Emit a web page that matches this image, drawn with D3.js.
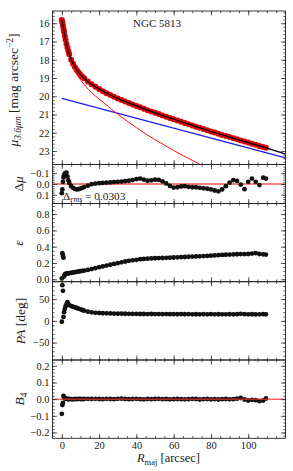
<!DOCTYPE html>
<html><head><meta charset="utf-8">
<script src="https://cdn.jsdelivr.net/npm/d3@7"></script>
<style>
body{margin:0;background:#fff;}
svg text{font-family:"Liberation Serif","Times New Roman",serif;fill:#222;}
</style></head><body><svg id="c" width="293" height="471"></svg>
<script>
// ---------- data ----------
const galaxy = "NGC 5813";
const rmsText = "0.0303";
const radius = [0,0.3,0.6,0.9,1.2,1.6,2,2.5,3,3.5,4,5,6,7,8,9,10,11,12,
  14,16,18,20,22,24,26,28,30,32,34,36,38,40,42,44,46,48,50,52,54,56,58,60,62,64,66,68,70,72,74,76,78,80,82,84,86,88,90,92,94,96,98,100,102,104,106,108,109.5];
const muData = [15.82,15.95,16.12,16.3,16.47,16.7,16.9,17.14,17.35,17.53,
  17.7,18.0,18.22,18.4,18.56,18.7,18.82,18.93,19.02,19.19,
  19.34,19.48,19.6,19.72,19.83,19.93,20.03,20.12,20.21,20.29,
  20.37,20.45,20.53,20.61,20.69,20.77,20.84,20.91,20.98,21.05,
  21.12,21.19,21.26,21.33,21.4,21.47,21.53,21.6,21.67,21.73,
  21.8,21.86,21.93,21.99,22.06,22.12,22.18,22.24,22.3,22.36,
  22.42,22.48,22.54,22.6,22.66,22.72,22.78,22.82];
const dMu = [0.085,0.05,-0.02,-0.06,-0.08,-0.095,-0.1,-0.105,-0.07,-0.035,
  -0.01,0.02,0.035,0.045,0.05,0.048,0.042,0.035,0.028,0.015,
  0.002,-0.004,-0.008,-0.01,-0.013,-0.015,-0.018,-0.02,-0.022,-0.026,
  -0.03,-0.036,-0.045,-0.05,-0.04,-0.03,-0.034,-0.04,-0.038,-0.025,
  -0.005,0.018,0.033,0.03,0.022,0.02,0.026,0.03,0.03,0.035,
  0.04,0.044,0.05,0.06,0.068,0.05,0.02,-0.012,-0.035,-0.028,
  0.005,0.048,-0.02,-0.05,-0.02,0.01,-0.058,-0.05];
const eps = [0.01,0.32,0.29,0.265,0.035,0.058,0.065,0.068,0.071,0.073,
  0.075,0.079,0.083,0.087,0.091,0.095,0.099,0.103,0.107,0.115,
  0.125,0.136,0.148,0.158,0.168,0.178,0.188,0.198,0.208,0.218,
  0.226,0.233,0.239,0.246,0.25,0.253,0.256,0.258,0.26,0.261,
  0.263,0.265,0.267,0.269,0.271,0.273,0.276,0.278,0.28,0.282,
  0.285,0.287,0.29,0.293,0.296,0.299,0.301,0.303,0.305,0.307,
  0.309,0.308,0.31,0.315,0.32,0.31,0.306,0.303];
const pa = [-2,82,69,9,20,27,33,38,43,38,
  36,34,32.5,31,29.5,28,26.5,25,23.5,21,
  19.5,18.5,18,17.5,17.2,17,16.8,16.6,16.5,16.3,
  16.2,16,16,15.8,15.8,15.6,15.7,15.5,15.6,15.4,
  15.5,15.3,15.4,15.2,15.3,15.2,15.4,15.1,15.2,15.0,
  15.2,15.1,15.3,15.0,15.2,15.1,15.0,15.2,15.1,15.4,
  16.2,15.3,15.0,15.2,14.8,15.1,15.3,15.0];
const b4 = [-0.088,-0.035,-0.022,0.02,0.012,0.006,0.003,0.002,0.001,0.0,
  0.001,0.0,-0.001,0.001,0.0,0.002,0.001,0.0,0.001,0.002,
  0.001,0.002,0.001,0.0,0.002,0.001,0.0,0.002,0.003,0.001,
  0.0,0.001,0.002,0.0,-0.001,0.001,0.0,0.001,0.002,0.0,
  0.001,-0.001,0.0,0.001,0.0,-0.001,0.0,0.002,0.001,-0.002,
  0.0,0.001,-0.001,0.0,-0.002,0.0,0.001,-0.001,0.0,0.003,
  0.007,-0.002,-0.008,-0.004,-0.006,-0.012,-0.008,0.004];
const modelR  = [0,1,2,3,4,5,6,8,10,12,15,20,25,30,35,40,50,60,70,80,90,100,110,120];
const modelMu = [15.82,16.38,16.9,17.35,17.7,18.0,18.22,18.56,18.82,19.02,19.27,19.6,19.88,20.12,20.33,20.53,20.91,21.26,21.6,21.93,22.24,22.54,22.84,23.17];
const bulgeR  = [0,1,2,3,4,5,7,10,13,16,20,25,30,35,40,45,50,55,60,65,70,75];
const bulgeMu = [15.84,16.42,16.94,17.37,17.77,18.1,18.6,19.1,19.48,19.8,20.15,20.57,20.98,21.36,21.72,22.06,22.38,22.68,22.97,23.25,23.51,23.77];
const diskR  = [0,120];
const diskMu = [20.12,23.38];
const xTicks = [0,20,40,60,80,100];
const muTicks = [16,17,18,19,20,21,22,23];
const dMuTicks = [-0.1,0,0.1];
const epsTicks = [0,0.2,0.4,0.6,0.8];
const paTicks = [-50,0,50];
const b4Ticks = [-0.2,-0.1,0,0.1,0.2];

// ---------- layout ----------
const SERIF = '"Liberation Serif","Times New Roman",serif';
const X0 = 52.5, X1 = 285.5;
const x = d3.scaleLinear().domain([-5,120]).range([X0,X1]);
const svg = d3.select('#c');
const defs = svg.append('defs');
const minus = s => s.replace('-', '\u2212');
const f1 = v => minus((Math.abs(v) < 1e-9 ? 0 : v).toFixed(1));
const f0 = v => minus(d3.format('d')(v));

const panels = [
  {top:11, bot:164.5, domain:[15.33,23.74], range:[11,164.5], major:muTicks, minor:d3.range(77,119).map(i=>i/5), fmt:f0},
  {top:164.5, bot:203.5, domain:[-0.18,0.18], range:[164.5,203.5], major:dMuTicks, minor:d3.range(-8,9).map(i=>i*0.02), fmt:f1},
  {top:203.5, bot:281.7, domain:[-0.03,0.93], range:[281.7,203.5], major:epsTicks, minor:d3.range(0,19).map(i=>i*0.05), fmt:f1},
  {top:281.7, bot:360, domain:[-90,90], range:[360,281.7], major:paTicks, minor:d3.range(-8,9).map(i=>i*10), fmt:f0},
  {top:360, bot:438.3, domain:[-0.235,0.235], range:[438.3,360], major:b4Ticks, minor:d3.range(-11,12).map(i=>i*0.02), fmt:f1}
];
const xMinor = d3.range(-1,24).map(i=>i*5);

panels.forEach((p,i) => {
  p.y = d3.scaleLinear().domain(p.domain).range(p.range);
  defs.append('clipPath').attr('id','clip'+i).append('rect')
    .attr('x',X0).attr('y',p.top).attr('width',X1-X0).attr('height',p.bot-p.top);
  p.g = svg.append('g').attr('clip-path',`url(#clip${i})`);
});

const pts = radius.map((r,i)=>({r, mu:muData[i], d:dMu[i], e:eps[i], pa:pa[i], b:b4[i]}));

// Panel 1: surface brightness
{
  const p = panels[0], y = p.y;
  p.g.selectAll('circle').data(pts).join('circle')
    .attr('cx', d=>x(d.r)).attr('cy', d=>y(d.mu)).attr('r',3).attr('fill','#dd0000');
  const line = (rs, ms) => d3.line().curve(d3.curveMonotoneX).x((d,i)=>x(rs[i])).y((d,i)=>y(ms[i]))(ms);
  p.g.append('path').attr('d', line(diskR, diskMu)).attr('fill','none').attr('stroke','#1f1fe6').attr('stroke-width',1.3);
  p.g.append('path').attr('d', line(bulgeR, bulgeMu)).attr('fill','none').attr('stroke','#ff1010').attr('stroke-width',1);
  p.g.append('path').attr('d', line(modelR, modelMu)).attr('fill','none').attr('stroke','#000').attr('stroke-width',1.2);
}
// Panel 2: residuals
{
  const p = panels[1], y = p.y;
  p.g.append('line').attr('x1',X0).attr('x2',X1).attr('y1',y(0)).attr('y2',y(0)).attr('stroke','#ee0000').attr('stroke-width',1);
  p.g.selectAll('circle').data(pts).join('circle')
    .attr('cx', d=>x(d.r)).attr('cy', d=>y(d.d)).attr('r',2.4).attr('fill','#111');
}
// Panel 3: ellipticity
{
  const p = panels[2], y = p.y;
  p.g.selectAll('circle').data(pts).join('circle')
    .attr('cx', d=>x(d.r)).attr('cy', d=>y(d.e)).attr('r',2.4).attr('fill','#111');
}
// Panel 4: PA
{
  const p = panels[3], y = p.y;
  p.g.selectAll('circle').data(pts).join('circle')
    .attr('cx', d=>x(d.r)).attr('cy', d=>y(d.pa)).attr('r',2.4).attr('fill','#111');
}
// Panel 5: B4
{
  const p = panels[4], y = p.y;
  p.g.selectAll('circle').data(pts).join('circle')
    .attr('cx', d=>x(d.r)).attr('cy', d=>y(d.b)).attr('r',2.4).attr('fill','#111');
  p.g.append('line').attr('x1',X0).attr('x2',X1).attr('y1',y(0)).attr('y2',y(0))
    .attr('stroke','#e83030').attr('stroke-opacity',0.75).attr('stroke-width',1.5);
}

// ---------- axes ----------
function styleAxis(g){
  g.attr('font-family', SERIF).attr('font-size', 10.5);
  g.select('.domain').remove();
  g.selectAll('line').attr('stroke','#333').attr('stroke-width',0.8);
  g.selectAll('text').attr('fill','#222');
}
panels.forEach((p,i) => {
  const y = p.y;
  const inside = v => v > Math.min(...p.domain)+1e-9 && v < Math.max(...p.domain)-1e-9;
  const minor = p.minor.filter(inside);
  svg.append('g').attr('transform',`translate(${X0},0)`)
    .call(d3.axisLeft(y).tickValues(p.major).tickSize(-4.5).tickPadding(3).tickFormat(p.fmt)).call(styleAxis);
  svg.append('g').attr('transform',`translate(${X0},0)`)
    .call(d3.axisLeft(y).tickValues(minor).tickSize(-2.2).tickFormat('')).call(styleAxis);
  svg.append('g').attr('transform',`translate(${X1},0)`)
    .call(d3.axisRight(y).tickValues(p.major).tickSize(-4.5).tickFormat('')).call(styleAxis);
  svg.append('g').attr('transform',`translate(${X1},0)`)
    .call(d3.axisRight(y).tickValues(minor).tickSize(-2.2).tickFormat('')).call(styleAxis);
  svg.append('g').attr('transform',`translate(0,${p.top})`)
    .call(d3.axisTop(x).tickValues(xTicks).tickSize(-4.5).tickFormat('')).call(styleAxis);
  svg.append('g').attr('transform',`translate(0,${p.top})`)
    .call(d3.axisTop(x).tickValues(xMinor.filter(v=>v>-5&&v<120)).tickSize(-2.2).tickFormat('')).call(styleAxis);
  const last = i === panels.length-1;
  svg.append('g').attr('transform',`translate(0,${p.bot})`)
    .call(d3.axisBottom(x).tickValues(xTicks).tickSize(-4.5).tickPadding(3).tickFormat(last ? d3.format('d') : '')).call(styleAxis);
  svg.append('g').attr('transform',`translate(0,${p.bot})`)
    .call(d3.axisBottom(x).tickValues(xMinor.filter(v=>v>-5&&v<120)).tickSize(-2.2).tickFormat('')).call(styleAxis);
  svg.append('rect').attr('x',X0).attr('y',p.top).attr('width',X1-X0).attr('height',p.bot-p.top)
    .attr('fill','none').attr('stroke','#222').attr('stroke-width',0.9);
});

// ---------- texts ----------
svg.append('text').attr('x',133).attr('y',26.5).attr('font-size',11).text(galaxy);
{
  const t = svg.append('text').attr('x',63).attr('y',199.5).attr('font-size',11.3);
  t.append('tspan').text('\u0394');
  t.append('tspan').attr('font-style','italic').attr('font-size',8).attr('dy',2.5).text('rms');
  t.append('tspan').attr('dy',-2.5).text(' = ' + rmsText);
}
function yLabel(cx, cy, build){
  const t = svg.append('text').attr('transform',`translate(${cx},${cy}) rotate(-90)`)
    .attr('text-anchor','middle').attr('font-size',13.5);
  build(t);
}
yLabel(18, 90, t => {
  t.append('tspan').attr('font-style','italic').text('\u03bc');
  t.append('tspan').attr('font-style','italic').attr('font-size',9.5).attr('dy',3).text('3.6\u03bcm');
  t.append('tspan').attr('dy',-3).text(' [mag arcsec');
  t.append('tspan').attr('font-size',9.5).attr('dy',-5).text('\u22122');
  t.append('tspan').attr('dy',5).text(']');
});
yLabel(23, 184, t => { t.append('tspan').text('\u0394'); t.append('tspan').attr('font-style','italic').text('\u03bc'); });
yLabel(23, 243, t => { t.append('tspan').attr('font-style','italic').text('\u03b5'); });
yLabel(25, 321, t => { t.append('tspan').attr('font-style','italic').text('PA'); t.append('tspan').text(' [deg]'); });
yLabel(24, 399, t => {
  t.append('tspan').attr('font-style','italic').text('B');
  t.append('tspan').attr('font-size',9.5).attr('dy',3).text('4');
});
{
  const t = svg.append('text').attr('x',168.5).attr('y',462).attr('text-anchor','middle').attr('font-size',12.5);
  t.append('tspan').attr('font-style','italic').text('R');
  t.append('tspan').attr('font-size',8.5).attr('dy',2.5).text('maj');
  t.append('tspan').attr('dy',-2.5).text(' [arcsec]');
}
</script></body></html>
